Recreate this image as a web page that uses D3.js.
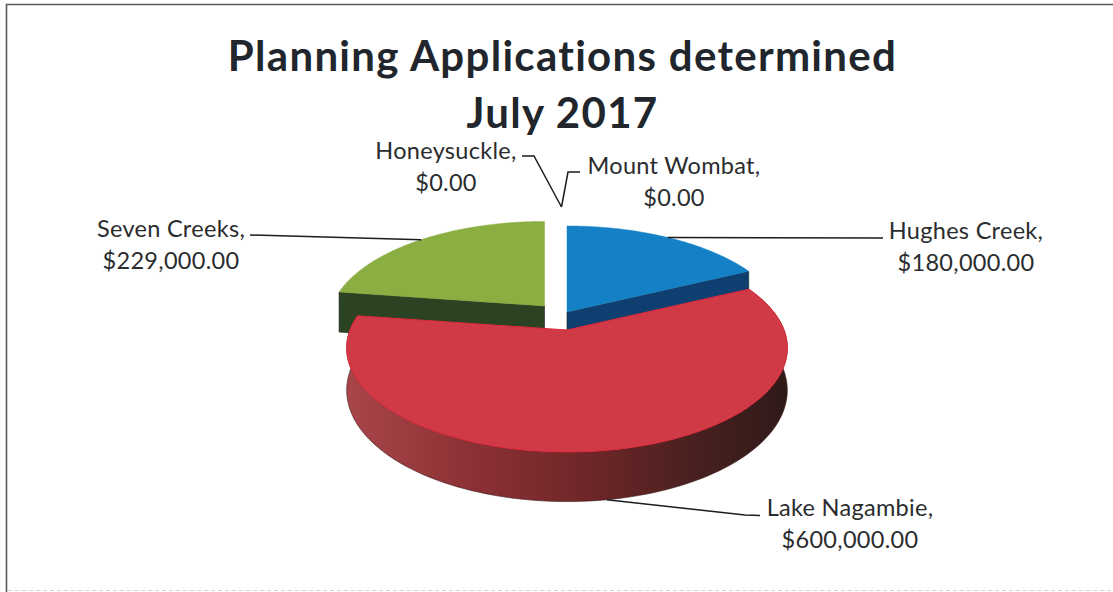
<!DOCTYPE html>
<html><head><meta charset="utf-8">
<script src="https://cdn.jsdelivr.net/npm/d3@7/dist/d3.min.js"></script>
<style>html,body{margin:0;padding:0;background:#fff}svg{display:block}</style>
</head><body><svg id="c" width="1113" height="592"></svg>
<script>
const titleLines = ["Planning Applications determined", "July 2017"];
const categories = ["Hughes Creek", "Lake Nagambie", "Seven Creeks", "Honeysuckle", "Mount Wombat"];
const values = [180000, 600000, 229000, 0, 0];
const sliceColors = ["#1480c6", "#d03a46", "#8aae42", "#888888", "#888888"];
const wallColors = ["#0f3f70", "#7d2a2c", "#2b4322", "#444444", "#444444"];

const svg = d3.select("#c");
const font = "Lato, 'Open Sans', sans-serif";
const money = d3.format("$,.2f");

// frame
svg.append("path").attr("d", "M6.5 592V4.5H1113").attr("fill", "none").attr("stroke", "#5a5a5a").attr("stroke-width", 1.6);
svg.append("path").attr("d", "M8 590.5H1113").attr("fill", "none").attr("stroke", "#d4d4d4").attr("stroke-width", 1).attr("stroke-dasharray", "4 3");

// title
svg.selectAll("text.title").data(titleLines).join("text").attr("class", "title")
  .attr("x", 562.5).attr("y", (d, i) => 71 + i * 57)
  .attr("text-anchor", "middle").attr("font-family", font).attr("font-weight", 700)
  .attr("font-size", 42).attr("letter-spacing", 1.3).attr("fill", "#20262c").text(d => d);

// perspective pie geometry
const R = 217, K = 100.9 / 217, P = 0.173 / 217, D = 41;
const scaleAt = Y => 1 / (1 - P * Y);
const project = (apex, a, r = R, drop = 0) => {
  const X = r * Math.sin(a), Y = -r * Math.cos(a), s = scaleAt(Y);
  return [apex[0] + X * s, apex[1] + Y * K * s + drop * D * s];
};
const apexes = { "Hughes Creek": [567, 312], "Lake Nagambie": [567, 330], "Seven Creeks": [544.5, 306] };
const radii = { "Hughes Creek": R, "Lake Nagambie": R, "Seven Creeks": R * 0.98 };
const pie = d3.pie().sort(null).value((d, i) => values[i]);
const arcs = pie(categories).map((a, i) => ({ ...a, name: categories[i], i }));
const line = d3.line();
const arcPts = (apex, a0, a1, r, drop = 0) => d3.range(0, 121).map(t => project(apex, a0 + (a1 - a0) * t / 120, r, drop));

const defs = svg.append("defs");
const grad = defs.append("linearGradient").attr("id", "redWall").attr("gradientUnits", "userSpaceOnUse")
  .attr("x1", 345).attr("x2", 787).attr("y1", 0).attr("y2", 0);
[[0, "#a8464a"], [0.3, "#8a3034"], [0.55, "#6f2628"], [0.8, "#47201f"], [1, "#2f1a18"]]
  .forEach(([o, c]) => grad.append("stop").attr("offset", o).attr("stop-color", c));

const visible = arcs.filter(a => a.value > 0);
const order = ["Seven Creeks", "Hughes Creek", "Lake Nagambie"].map(n => visible.find(a => a.name === n));
const g = svg.append("g");
order.forEach(a => {
  const apex = apexes[a.name], r = radii[a.name];
  const big = a.name === "Lake Nagambie";
  if (big) {
    const top = arcPts(apex, a.startAngle, a.endAngle, r);
    const bot = arcPts(apex, a.startAngle, a.endAngle, r, 1);
    g.append("path").attr("d", line(top.concat(bot.reverse())) + "Z").attr("fill", "url(#redWall)").attr("stroke", "#3a1c1c").attr("stroke-width", 0.6);
  } else {
    const edge = a.name === "Hughes Creek" ? a.endAngle : a.startAngle;
    const c0 = project(apex, edge, r), c1 = project(apex, edge, r, 1);
    const ap1 = [apex[0], apex[1] + D];
    g.append("path").attr("d", line([c0, apex, ap1, c1]) + "Z").attr("fill", wallColors[a.i]).attr("stroke", "#14241a").attr("stroke-width", 0.6);
  }
  const face = [apex].concat(arcPts(apex, a.startAngle, a.endAngle, r));
  g.append("path").attr("d", line(face) + "Z").attr("fill", sliceColors[a.i])
    .attr("stroke", big ? "#e0283a" : sliceColors[a.i]).attr("stroke-width", big ? 1 : 0.5);
});

// leader lines
const mid = a => (a.startAngle + a.endAngle) / 2;
const byName = n => arcs.find(a => a.name === n);
const leaders = [
  [[250, 235], project(apexes["Seven Creeks"], mid(byName("Seven Creeks")), radii["Seven Creeks"])],
  [project(apexes["Hughes Creek"], mid(byName("Hughes Creek"))), [883, 238]],
  [project(apexes["Lake Nagambie"], mid(byName("Lake Nagambie")), R, 1), [745, 515], [760, 515.5]],
  [[522, 156], [534, 156], [561.5, 207]],
  [[580, 172], [568, 172], [561.5, 207]]
];
svg.selectAll("path.leader").data(leaders).join("path").attr("class", "leader")
  .attr("d", d => line(d)).attr("fill", "none").attr("stroke", "#1c1c1c").attr("stroke-width", 1.5);

// labels
const labelPos = { "Honeysuckle": [446, 159], "Mount Wombat": [674, 174], "Seven Creeks": [171, 237], "Hughes Creek": [966, 239], "Lake Nagambie": [850, 516] };
const lab = svg.selectAll("text.label").data(arcs).join("text").attr("class", "label")
  .attr("font-family", font).attr("font-size", 23.5).attr("letter-spacing", 0.3).attr("fill", "#2a2c2e").attr("text-anchor", "middle");
lab.append("tspan").attr("x", d => labelPos[d.name][0]).attr("y", d => labelPos[d.name][1]).text(d => d.name + ",");
lab.append("tspan").attr("x", d => labelPos[d.name][0]).attr("y", d => labelPos[d.name][1] + 31.5).text(d => money(d.value));
</script></body></html>
